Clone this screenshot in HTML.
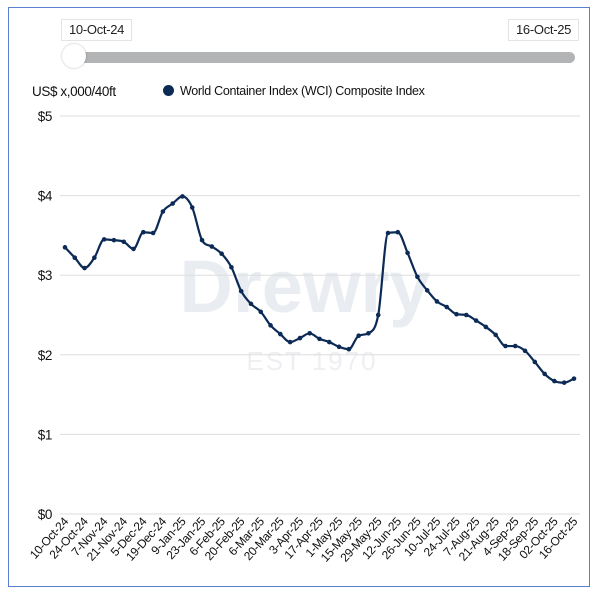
<!DOCTYPE html>
<html><head><meta charset="utf-8"><style>
body{margin:0;width:604px;height:599px;background:#fff;font-family:"Liberation Sans",sans-serif;overflow:hidden}
#frame{position:absolute;left:8px;top:7px;width:580px;height:578px;border:1px solid #5b7fcf}
.datebox{position:absolute;top:19px;height:20px;line-height:20px;padding:0 7px;border:1px solid #e4e4e4;font-size:13px;color:#222;letter-spacing:-0.3px}
</style></head><body>
<div id="frame"></div>
<div class="datebox" style="left:61px">10-Oct-24</div>
<div class="datebox" style="left:508px">16-Oct-25</div>
<div style="position:absolute;left:64px;top:52px;width:511px;height:11px;border-radius:6px;background:#b3b4b6"></div>
<div style="position:absolute;left:62px;top:44px;width:24px;height:24px;border-radius:50%;background:#fff;box-shadow:0 0 2px rgba(0,0,0,0.3)"></div>
<div style="position:absolute;left:32px;top:84px;font-size:13.5px;color:#111;letter-spacing:-0.4px">US$ x,000/40ft</div>
<div style="position:absolute;left:163px;top:84px;font-size:12.5px;color:#111;letter-spacing:-0.3px"><span style="display:inline-block;width:11px;height:11px;border-radius:50%;background:#0b2a55;vertical-align:-1px;margin-right:6px"></span>World Container Index (WCI) Composite Index</div>
<svg id="chart" width="604" height="599" style="position:absolute;left:0;top:0"></svg>
<script>
const labels=["10-Oct-24","24-Oct-24","7-Nov-24","21-Nov-24","5-Dec-24","19-Dec-24","9-Jan-25","23-Jan-25","6-Feb-25","20-Feb-25","6-Mar-25","20-Mar-25","3-Apr-25","17-Apr-25","1-May-25","15-May-25","29-May-25","12-Jun-25","26-Jun-25","10-Jul-25","24-Jul-25","7-Aug-25","21-Aug-25","4-Sep-25","18-Sep-25","02-Oct-25","16-Oct-25"];
const values=[3.35,3.22,3.09,3.22,3.45,3.44,3.42,3.33,3.54,3.53,3.80,3.90,3.99,3.85,3.44,3.36,3.27,3.10,2.80,2.64,2.54,2.37,2.26,2.16,2.21,2.27,2.20,2.16,2.10,2.07,2.24,2.27,2.50,3.53,3.54,3.28,2.98,2.81,2.67,2.60,2.51,2.50,2.43,2.35,2.25,2.11,2.11,2.05,1.91,1.76,1.67,1.65,1.70];
const yTicks=[0,1,2,3,4,5];
const yTickLabels=["$0","$1","$2","$3","$4","$5"];
const NS="http://www.w3.org/2000/svg";
const svg=document.getElementById('chart');
const x0=65,x1=574,yb=514,yt=116;
const xs=i=>x0+(x1-x0)*i/(values.length-1);
const ys=v=>yb-(yb-yt)*v/5;
function mk(t,a){const e=document.createElementNS(NS,t);for(const k in a)e.setAttribute(k,a[k]);svg.appendChild(e);return e;}
let w=mk('text',{x:305,y:312,'font-size':74,'font-weight':'bold','text-anchor':'middle',fill:'#e9ecf1','font-family':'Liberation Sans, sans-serif'});w.textContent='Drewry';


let w2=mk('text',{x:312,y:370,'font-size':26,'text-anchor':'middle',fill:'#eeeff2','letter-spacing':'2','font-family':'Liberation Sans, sans-serif'});w2.textContent='EST 1970';


yTicks.forEach((t,i)=>{
 const g=mk('line',{x1:60,x2:580,y1:ys(t),y2:ys(t),stroke:'#dedede','stroke-width':1});
 
 
 const l=mk('text',{x:52,y:ys(t)+5,'font-size':13.5,'text-anchor':'end',fill:'#111','letter-spacing':'-0.4'});l.textContent=yTickLabels[i];
 
 
});
labels.forEach((s,i)=>{
 const x=xs(i*2),y=522;
 const l=mk('text',{x:x+4,y:y,'font-size':12,'text-anchor':'end',fill:'#111','letter-spacing':'-0.3',transform:`rotate(-48 ${x+4} ${y})`});l.textContent=s;
 
 
});
const pts=values.map((v,i)=>[xs(i),ys(v)]);
// monotone cubic
const n=pts.length,dx=pts[1][0]-pts[0][0];
const sl=[];for(let i=0;i<n-1;i++)sl.push((pts[i+1][1]-pts[i][1])/dx);
const m=[sl[0]];
for(let i=1;i<n-1;i++){m.push(sl[i-1]*sl[i]<=0?0:(sl[i-1]+sl[i])/2);}
m.push(sl[n-2]);
for(let i=0;i<n-1;i++){if(sl[i]===0){m[i]=0;m[i+1]=0;continue;}const a=m[i]/sl[i],b=m[i+1]/sl[i],s=a*a+b*b;if(s>9){const t=3/Math.sqrt(s);m[i]=t*a*sl[i];m[i+1]=t*b*sl[i];}}
let d=`M${pts[0][0]},${pts[0][1]}`;
for(let i=0;i<n-1;i++){
 d+=` C${pts[i][0]+dx/3},${pts[i][1]+m[i]*dx/3} ${pts[i+1][0]-dx/3},${pts[i+1][1]-m[i+1]*dx/3} ${pts[i+1][0]},${pts[i+1][1]}`;
}
const path=mk('path',{d:d,fill:'none',stroke:'#0b2a55','stroke-width':2.2});


pts.forEach(p=>{
 const c=mk('circle',{cx:p[0],cy:p[1],r:2.3,fill:'#0b2a55'});
 
 
});
</script>
</body></html>
